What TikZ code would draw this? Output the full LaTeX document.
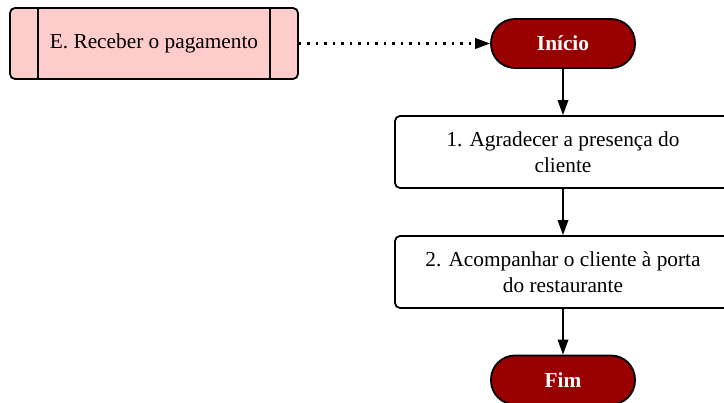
\documentclass[tikz,border=0pt]{standalone}
\usepackage{fontspec}
\setmainfont{Liberation Serif}
\usepackage{tikz}
\usepackage{xcolor}
\usetikzlibrary{positioning,shapes,arrows.meta}

\definecolor{terminal}{HTML}{990000}
\definecolor{subproc}{HTML}{FFCCCC}

\begin{document}
\begin{tikzpicture}[x=1pt,y=1pt,line width=1.8pt,
  font=\fontsize{21.3}{25.5}\selectfont,
  >={Triangle[length=15pt,width=10.5pt]}]
\tikzstyle{terminal}=[rectangle,rounded corners=24pt,draw=black,fill=terminal,
  text=white,font=\fontsize{21.3}{25.5}\selectfont\bfseries,
  minimum width=144pt,minimum height=49pt,inner sep=0pt]
\tikzstyle{stepbox}=[rectangle,rounded corners=5pt,draw=black,fill=white,
  align=center,minimum width=336pt,minimum height=72pt,inner sep=0pt]
\tikzstyle{callbox}=[rectangle,rounded corners=5pt,draw=black,fill=subproc,
  minimum width=288pt,minimum height=71pt,inner sep=0pt]
\useasboundingbox (0,0) rectangle (724,-403);
\node[callbox] (receber) at (154,-43.5) {E. Receber o pagamento};
\draw ([xshift=29pt]receber.north west) -- ([xshift=29pt]receber.south west);
\draw ([xshift=-29pt]receber.north east) -- ([xshift=-29pt]receber.south east);
\node[terminal] (inicio) at (563,-43.5) {Início};
\node[stepbox] (agradecer) at (563,-152) {1. Agradecer a presença do\\cliente};
\node[stepbox] (acompanhar) at (563,-272) {2. Acompanhar o cliente à porta\\do restaurante};
\node[terminal] (fim) at (563,-380) {Fim};
\draw[->,line width=2.2pt,dash pattern=on 2.2pt off 6.3pt] (receber) -- (inicio);
\draw[->] (inicio) -- (agradecer);
\draw[->] (agradecer) -- (acompanhar);
\draw[->] (acompanhar) -- (fim);
\end{tikzpicture}
\end{document}
